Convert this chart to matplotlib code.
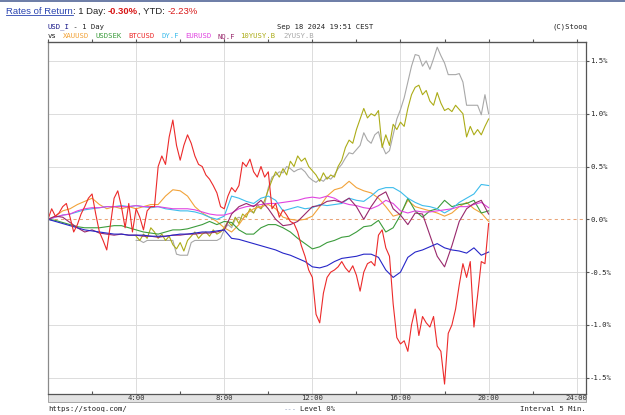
import numpy as np
import matplotlib
matplotlib.use("Agg")
import matplotlib.pyplot as plt
from matplotlib.patches import Rectangle

W, H = 625, 415

# rates of return in %, 20-minute samples from 0:00 to 20:00
usd_i = [0.00, -0.02, -0.04, -0.06, -0.08, -0.10, -0.11, -0.12, -0.13, -0.14,
         -0.14, -0.15, -0.15, -0.15, -0.16, -0.16, -0.16, -0.15, -0.14, -0.14,
         -0.13, -0.12, -0.12, -0.11, -0.10, -0.18, -0.19, -0.21, -0.23, -0.25,
         -0.27, -0.29, -0.32, -0.34, -0.37, -0.40, -0.45, -0.46, -0.44, -0.40,
         -0.37, -0.36, -0.35, -0.33, -0.33, -0.36, -0.48, -0.55, -0.50, -0.36,
         -0.31, -0.29, -0.26, -0.23, -0.27, -0.29, -0.30, -0.32, -0.27, -0.34,
         -0.31]
xauusd = [0.00, 0.03, 0.08, 0.10, 0.14, 0.17, 0.20, 0.14, 0.10, 0.12,
          0.10, 0.12, 0.10, 0.12, 0.14, 0.14, 0.22, 0.28, 0.27, 0.22,
          0.12, 0.06, 0.02, -0.02, -0.08, -0.12, -0.05, 0.05, 0.10, 0.12,
          0.14, 0.10, 0.02, 0.00, -0.01, 0.00, 0.03, 0.12, 0.22, 0.28,
          0.30, 0.36, 0.30, 0.27, 0.25, 0.20, 0.12, 0.03, 0.05, 0.18,
          0.12, 0.10, 0.08, 0.06, 0.03, 0.06, 0.12, 0.16, 0.10, 0.06,
          -0.02]
usdsek = [0.00, -0.01, -0.03, -0.05, -0.07, -0.08, -0.08, -0.08, -0.07, -0.06,
          -0.06, -0.08, -0.10, -0.12, -0.13, -0.14, -0.12, -0.10, -0.10, -0.09,
          -0.07, -0.05, -0.02, -0.05, -0.02, -0.03, -0.10, -0.14, -0.14, -0.08,
          -0.05, -0.05, -0.08, -0.12, -0.18, -0.23, -0.28, -0.26, -0.22, -0.20,
          -0.17, -0.16, -0.12, -0.07, -0.06, -0.01, -0.12, -0.08, 0.04, 0.20,
          0.08, 0.02, 0.08, 0.10, 0.18, 0.12, 0.14, 0.15, 0.18, 0.06,
          0.08]
dyf = [0.00, 0.02, 0.04, 0.05, 0.07, 0.09, 0.10, 0.11, 0.12, 0.12,
       0.13, 0.12, 0.13, 0.12, 0.11, 0.12, 0.10, 0.09, 0.08, 0.08,
       0.07, 0.05, 0.02, 0.00, 0.03, 0.22, 0.20, 0.17, 0.15, 0.20,
       0.22, 0.18, 0.08, 0.10, 0.12, 0.10, 0.11, 0.14, 0.13, 0.14,
       0.15, 0.20, 0.18, 0.17, 0.22, 0.28, 0.30, 0.30, 0.26, 0.20,
       0.16, 0.13, 0.12, 0.10, 0.06, 0.10, 0.16, 0.20, 0.24, 0.33,
       0.32]
eurusd = [0.00, 0.02, 0.04, 0.05, 0.08, 0.10, 0.11, 0.11, 0.12, 0.12,
          0.12, 0.12, 0.13, 0.12, 0.12, 0.12, 0.11, 0.10, 0.10, 0.10,
          0.09, 0.07, 0.05, 0.04, 0.04, 0.06, 0.10, 0.12, 0.13, 0.14,
          0.15, 0.15, 0.16, 0.17, 0.18, 0.20, 0.21, 0.20, 0.22, 0.20,
          0.16, 0.14, 0.13, 0.11, 0.10, 0.13, 0.18, 0.15, 0.08, 0.06,
          0.08, 0.07, 0.07, 0.08, 0.09, 0.10, 0.12, 0.12, 0.14, 0.16,
          0.11]
nqf = [0.00, 0.03, 0.02, -0.03, -0.08, -0.12, -0.10, -0.13, -0.14, -0.15,
       -0.14, -0.15, -0.15, -0.16, -0.16, -0.17, -0.16, -0.15, -0.15, -0.14,
       -0.14, -0.13, -0.13, -0.12, -0.10, 0.05, 0.12, 0.15, 0.12, 0.18,
       0.10, 0.00, -0.06, -0.05, -0.02, 0.05, 0.12, 0.13, 0.17, 0.18,
       0.16, 0.20, 0.12, 0.00, 0.12, 0.22, 0.26, 0.10, 0.04, -0.05,
       0.06, 0.05, -0.15, -0.35, -0.45, -0.25, -0.02, 0.10, 0.15, 0.18,
       0.05]

# BTCUSD, 10-minute samples from 0:00 to 20:00
btcusd = [0.00, 0.10, 0.03, 0.06, 0.12, 0.15, 0.02, -0.12, -0.05, 0.05,
          0.12, 0.20, 0.24, 0.05, -0.12, -0.20, -0.29, -0.05, 0.20, 0.27,
          0.12, -0.08, 0.15, -0.12, 0.10, 0.02, -0.10, 0.08, 0.12, 0.12,
          0.50, 0.60, 0.52, 0.78, 0.94, 0.70, 0.56, 0.70, 0.80, 0.72,
          0.60, 0.52, 0.50, 0.42, 0.38, 0.32, 0.25, 0.12, 0.10, 0.22,
          0.30, 0.26, 0.32, 0.54, 0.50, 0.57, 0.45, 0.40, 0.50, 0.40,
          0.45, 0.10, 0.15, 0.02, 0.09, 0.04, -0.02, -0.04, -0.12, -0.25,
          -0.35, -0.48, -0.55, -0.90, -0.98, -0.70, -0.55, -0.50, -0.48, -0.45,
          -0.40, -0.46, -0.50, -0.44, -0.53, -0.68, -0.50, -0.42, -0.40, -0.44,
          -0.15, -0.10, -0.27, -0.35, -0.80, -1.12, -1.18, -1.15, -1.25, -1.00,
          -0.85, -1.10, -0.92, -0.98, -1.02, -0.92, -1.20, -1.25, -1.56, -1.08,
          -1.00, -0.85, -0.62, -0.42, -0.55, -0.40, -1.02, -0.72, -0.40, -0.42,
          -0.04]

# treasury yields, 10-minute samples from 4:00 to 20:00
us10y = [-0.16, -0.20, -0.14, -0.18, -0.08, -0.12, -0.18, -0.14, -0.20, -0.16,
         -0.24, -0.28, -0.22, -0.30, -0.20, -0.16, -0.12, -0.18, -0.14, -0.12,
         -0.16, -0.10, -0.14, -0.12, -0.08, -0.02, -0.06, 0.02, -0.04, 0.05,
         0.02, 0.10, 0.06, 0.14, 0.10, 0.18, 0.28, 0.37, 0.45, 0.40,
         0.48, 0.42, 0.55, 0.50, 0.60, 0.55, 0.58, 0.50, 0.46, 0.42,
         0.36, 0.44, 0.38, 0.42, 0.40, 0.50, 0.56, 0.68, 0.75, 0.72,
         0.85, 0.95, 1.05, 0.96, 1.00, 0.98, 1.03, 0.68, 0.80, 0.70,
         0.90, 0.85, 0.92, 0.88, 1.05, 1.18, 1.25, 1.27, 1.18, 1.22,
         1.12, 1.08, 1.20, 1.10, 1.03, 1.05, 1.02, 1.08, 1.04, 1.00,
         0.78, 0.88, 0.80, 0.85, 0.80, 0.88, 0.95]
us2y = [-0.20, -0.20, -0.22, -0.20, -0.20, -0.20, -0.20, -0.20, -0.20, -0.20,
        -0.20, -0.33, -0.34, -0.34, -0.34, -0.22, -0.20, -0.20, -0.20, -0.20,
        -0.20, -0.20, -0.20, -0.18, -0.10, -0.05, -0.08, 0.00, 0.02, 0.00,
        0.05, 0.08, 0.06, 0.12, 0.10, 0.14, 0.30, 0.40, 0.42, 0.45,
        0.44, 0.50, 0.48, 0.45, 0.47, 0.48, 0.45, 0.40, 0.37, 0.35,
        0.38, 0.36, 0.40, 0.38, 0.42, 0.48, 0.52, 0.58, 0.63, 0.62,
        0.66, 0.70, 0.82, 0.75, 0.72, 0.80, 0.83, 0.70, 0.62, 0.65,
        0.80, 0.95, 1.04, 1.15, 1.30, 1.45, 1.56, 1.55, 1.45, 1.50,
        1.42, 1.52, 1.63, 1.55, 1.48, 1.37, 1.37, 1.37, 1.38, 1.30,
        1.08, 1.08, 1.08, 1.08, 0.99, 1.18, 1.00]

t20 = np.arange(len(usd_i)) / 3.0
t10 = np.arange(len(btcusd)) / 6.0
t_yield = 4.0 + np.arange(len(us10y)) / 6.0

names = ["XAUUSD", "USDSEK", "BTCUSD", "DY.F", "EURUSD", "NQ.F", "10YUSY.B", "2YUSY.B"]
colors = {"USD_I": "#2626c8", "XAUUSD": "#f2a33a", "USDSEK": "#3c9c3c",
          "BTCUSD": "#ec2a2a", "DY.F": "#3cbcec", "EURUSD": "#e044e0",
          "NQ.F": "#98286c", "10YUSY.B": "#acac18", "2YUSY.B": "#a8a8a8"}
hour_labels = ["4:00", "8:00", "12:00", "16:00", "20:00", "24:00"]
pct_ticks = [-1.5, -1.0, -0.5, 0.0, 0.5, 1.0, 1.5]

MONO = "DejaVu Sans Mono"
SANS = "Liberation Sans"


def fx(px):
    return px / W


def fy(py):
    return 1 - py / H


fig = plt.figure(figsize=(W / 100, H / 100), dpi=100)
fig.patch.set_facecolor("white")
fig.add_artist(Rectangle((0, fy(2)), 1, 2 / H, transform=fig.transFigure,
                         facecolor="#6f7fa8", edgecolor="none"))

# grey band that holds the hour labels, drawn under the axes
fig.add_artist(Rectangle((fx(48), fy(402)), fx(586) - fx(48), fy(394) - fy(402),
                         transform=fig.transFigure, facecolor="#e3e3e3",
                         edgecolor="#9a9a9a", lw=0.6, zorder=0))

ax = fig.add_axes([fx(48), fy(394), fx(586) - fx(48), fy(42) - fy(394)])
ax.set_zorder(1)
ax.set_xlim(0, 24.42)
ax.set_ylim(-1.654, 1.679)

for h in range(4, 25, 4):
    ax.axvline(h, color="#dcdcdc", lw=0.7, zorder=0)
for v in pct_ticks:
    if v != 0:
        ax.axhline(v, color="#dcdcdc", lw=0.7, zorder=0)
ax.axhline(0, color="#e9a57a", lw=0.75, ls=(0, (3, 3)), zorder=0.5)

series = [("2YUSY.B", t_yield, us2y), ("10YUSY.B", t_yield, us10y),
          ("XAUUSD", t20, xauusd), ("USDSEK", t20, usdsek), ("DY.F", t20, dyf),
          ("EURUSD", t20, eurusd), ("NQ.F", t20, nqf), ("USD_I", t20, usd_i),
          ("BTCUSD", t10, btcusd)]
for name, t, vals in series:
    ax.plot(t, vals, color=colors[name], lw=0.8, zorder=2)

for s in ax.spines.values():
    s.set_color("#555555")
    s.set_linewidth(0.9)
ax.spines["left"].set_color("#8a8a8a")

ax.set_xticks([2, 6, 10, 14, 18, 22])
ax.set_xticklabels([])
ax.tick_params(axis="x", direction="in", length=2.2, color="#555555")
top = ax.secondary_xaxis("top")
top.set_xticks(range(0, 25, 2))
top.set_xticklabels([])
top.tick_params(direction="out", length=2.2, color="#555555")
top.spines["top"].set_color("#555555")

ax.yaxis.tick_right()
ax.set_yticks(pct_ticks)
ax.set_yticklabels(["%.1f%%" % v for v in pct_ticks], fontsize=5.2, family=MONO, color="#222222")
ax.tick_params(axis="y", direction="out", length=2.2, pad=0.8, color="#555555")

for h, lab in zip(range(4, 25, 4), hour_labels):
    ax.text(h, (394 - 398.3) / 352, lab, transform=ax.get_xaxis_transform(),
            ha="center", va="center", fontsize=5.2, family=MONO, color="#333333",
            clip_on=False, zorder=5)

# header
renderer = fig.canvas.get_renderer()
parts = [("Rates of Return", "#2a44b0", "normal"), (": 1 Day: ", "#222222", "normal"),
         ("-0.30%", "#d81818", "bold"), (", YTD: ", "#222222", "normal"),
         ("-2.23%", "#d81818", "normal")]
x = fx(6)
for i, (txt, col, wt) in enumerate(parts):
    t = fig.text(x, fy(11), txt, color=col, fontsize=6.8, family=SANS,
                 fontweight=wt, va="center", ha="left")
    bb = t.get_window_extent(renderer).transformed(fig.transFigure.inverted())
    if i == 0:
        fig.add_artist(plt.Line2D([bb.x0, bb.x1], [fy(15.5), fy(15.5)],
                                  transform=fig.transFigure, color=col, lw=0.6))
    x = bb.x1

fig.text(fx(48), fy(27), "USD_I", color="#1a1a8a", fontsize=5.2, family=MONO, va="center")
fig.text(fx(48 + 5 * 4.2), fy(27), " - 1 Day", color="#222222", fontsize=5.2, family=MONO, va="center")
fig.text(fx(277), fy(27), "Sep 18 2024 19:51 CEST", color="#222222", fontsize=5.2, family=MONO, va="center")
fig.text(fx(587), fy(27), "(C)Stooq", color="#222222", fontsize=5.2, family=MONO, va="center", ha="right")

fig.text(fx(48), fy(36), "vs", color="#222222", fontsize=5.2, family=MONO, va="center")
name_x = [63, 95, 128, 161, 185, 217, 240, 283]
for nm, px in zip(names, name_x):
    fig.text(fx(px), fy(36), nm, color=colors[nm], fontsize=5.2, family=MONO, va="center")

# footer
fig.text(fx(48), fy(409), "https://stooq.com/", color="#222222", fontsize=5.2, family=MONO, va="center")
fig.text(fx(284), fy(409), "---", color="#9aa6c0", fontsize=5.2, family=MONO, va="center")
fig.text(fx(300), fy(409), "Level 0%", color="#222222", fontsize=5.2, family=MONO, va="center")
fig.text(fx(586), fy(409), "Interval 5 Min.", color="#222222", fontsize=5.2, family=MONO, va="center", ha="right")

fig.savefig("out.png", dpi=100)
